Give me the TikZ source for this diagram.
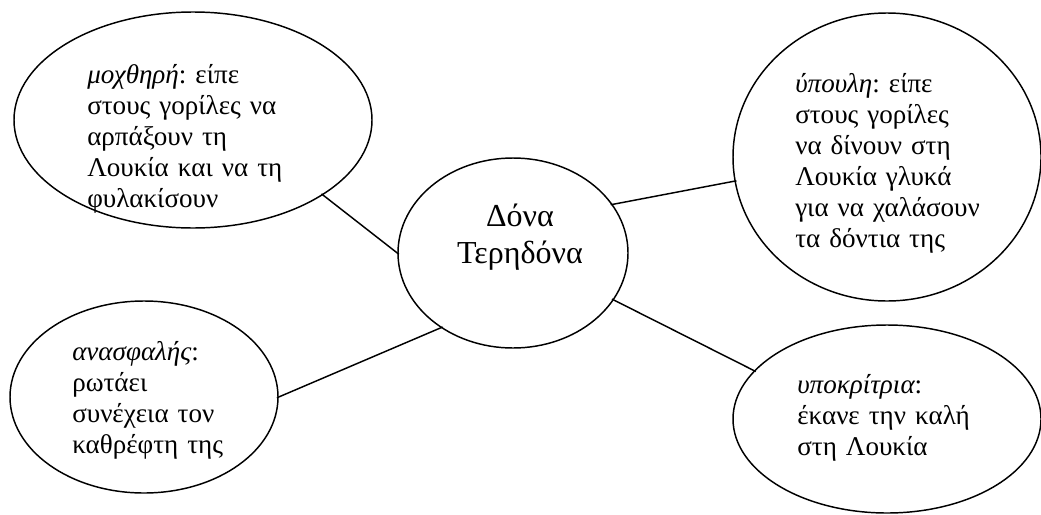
\documentclass[tikz,border=0pt]{standalone}
\usepackage{fontspec}
\setmainfont{Liberation Serif}
\usetikzlibrary{shapes.geometric}
\frenchspacing

\tikzset{
    bubble/.style = {draw, ellipse, line width=1.1pt, inner sep=0pt},
    bubbletext/.style = {anchor=base west, inner sep=0pt, text width=170pt, align=left,
                         font=\fontsize{20.3}{23.25}\selectfont},
    link/.style = {line width=1.1pt, shorten <=-1.5pt, shorten >=-1.5pt}
}

\begin{document}
\begin{tikzpicture}[x=0.75pt, y=-0.75pt]

    \useasboundingbox (0,0) rectangle (1041,514);

    \node [bubble, minimum width=268.5pt, minimum height=162pt] (mean) at (193,120) {};
    \node [bubble, minimum width=231pt, minimum height=216pt] (sly) at (887,157) {};
    \node [bubble, minimum width=201pt, minimum height=144pt] (unsure) at (144,397) {};
    \node [bubble, minimum width=231pt, minimum height=141pt] (fake) at (887,419) {};
    \node [bubble, minimum width=172.5pt, minimum height=142.5pt] (dona) at (513,253) {};

    \node [inner sep=0pt, align=center, font=\fontsize{24}{27.75}\selectfont] (donatext) at (520,237)
        {Δόνα\\Τερηδόνα};

    \node [bubbletext] (meantext) at (87,83)
        {{\itshape μοχθηρή}: είπε\\στους γορίλες να\\αρπάξουν τη\\Λουκία και να τη\\φυλακίσουν};
    \node [bubbletext] (slytext) at (795,92)
        {{\itshape ύπουλη}: είπε\\στους γορίλες\\να δίνουν στη\\Λουκία γλυκά\\για να χαλάσουν\\τα δόντια της};
    \node [bubbletext] (unsuretext) at (72,360)
        {{\itshape ανασφαλής}:\\ρωτάει\\συνέχεια τον\\καθρέφτη της};
    \node [bubbletext] (faketext) at (797,393)
        {{\itshape υποκρίτρια}:\\έκανε την καλή\\στη Λουκία};

    \draw [link] (mean.-30.5) -- (dona.180);
    \draw [link] (unsure.0) -- (dona.226.6);
    \draw [link] (dona.26.1) -- (sly.189.7);
    \draw [link] (dona.-25) -- (fake.160.1);

\end{tikzpicture}
\end{document}
